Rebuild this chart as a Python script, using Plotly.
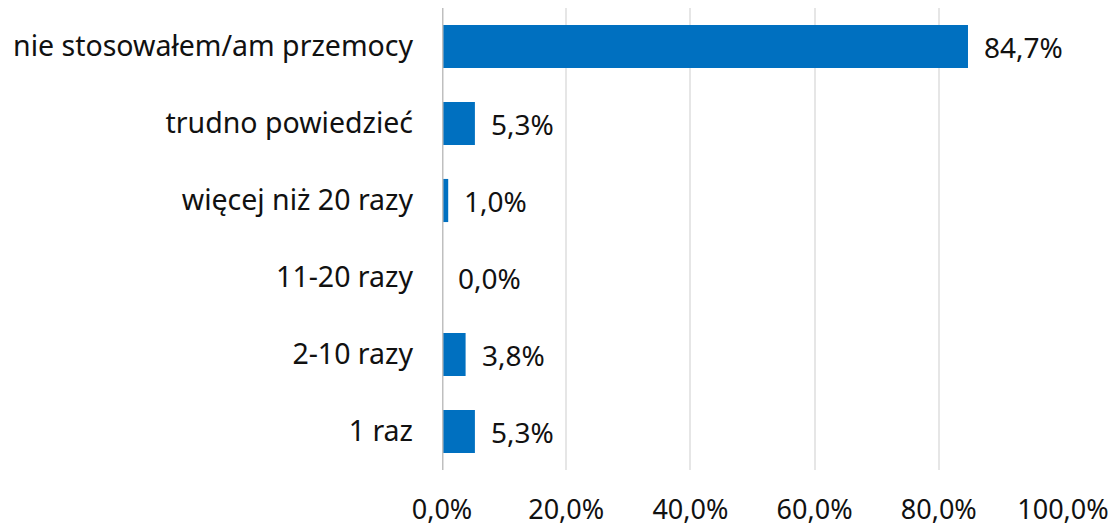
import plotly.graph_objects as go

categories = ["1 raz", "2-10 razy", "11-20 razy", "więcej niż 20 razy",
              "trudno powiedzieć", "nie stosowałem/am przemocy"]
values = [5.3, 3.8, 0.0, 1.0, 5.3, 84.7]
tick_vals = [0, 20, 40, 60, 80, 100]

BAR_COLOR = "#0070C0"
FONT = "Noto Sans"
TXT = "#111111"
FS = 28

def fmt(v):
    return f"{v:.1f}".replace(".", ",") + "%"

fig = go.Figure()
fig.add_trace(go.Bar(
    x=values, y=categories, orientation="h",
    marker=dict(color=BAR_COLOR, line=dict(width=0)),
    hoverinfo="skip",
))

for c, v in zip(categories, values):
    fig.add_annotation(
        x=v, y=c, text=fmt(v), showarrow=False,
        xanchor="left", yanchor="middle", xshift=14,
        font=dict(family=FONT, size=FS, color=TXT),
    )

fig.update_layout(
    width=1109, height=521,
    margin=dict(l=434, r=54, t=0, b=59, autoexpand=False),
    paper_bgcolor="white", plot_bgcolor="white",
    bargap=0.44,
    showlegend=False,
    font=dict(family=FONT, size=FS, color=TXT),
)
fig.update_xaxes(
    range=[0, 100], tickvals=tick_vals,
    ticktext=[fmt(t) for t in tick_vals],
    showgrid=True, gridcolor="#E6E6E6", gridwidth=1.5,
    zeroline=False, showline=False, automargin=False,
    ticks="", ticklabelstandoff=21,
    tickfont=dict(family=FONT, size=27, color=TXT),
    fixedrange=True,
)
fig.update_yaxes(
    categoryorder="array", categoryarray=categories,
    showgrid=False, zeroline=False, automargin=False,
    showline=False, ticks="", ticklabelstandoff=28,
    tickfont=dict(family=FONT, size=28.5, color=TXT),
    fixedrange=True,
)
# zero line (category axis side)
fig.add_shape(type="line", xref="x", yref="paper", x0=0, x1=0, y0=0, y1=1,
              line=dict(color="#BFBFBF", width=3), layer="above")

fig.write_html("out.html")
